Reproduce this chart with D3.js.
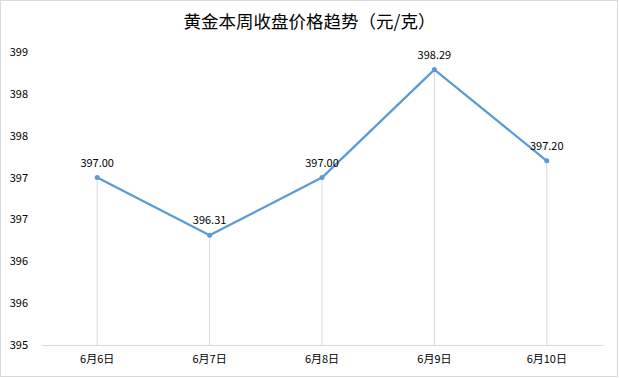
<!DOCTYPE html>
<html>
<head>
<meta charset="utf-8">
<script src="https://cdn.jsdelivr.net/npm/d3@7"></script>
<style>
  body { margin: 0; background: #fff; }
  text { font-family: "Noto Sans CJK SC", "Noto Sans", sans-serif; fill: #000; }
</style>
</head>
<body>
<div id="chart"></div>
<script>
const TITLE = "黄金本周收盘价格趋势（元/克）";
const dates = ["6月6日", "6月7日", "6月8日", "6月9日", "6月10日"];
const prices = [397.0, 396.31, 397.0, 398.29, 397.2];
const yTicks = [395, 395.5, 396, 396.5, 397, 397.5, 398, 398.5];
const yTickLabels = ["395", "396", "396", "397", "397", "398", "398", "399"];

const W = 619, H = 378;
const MARGIN = { TOP: 52, BOTTOM: 33, LEFT: 41, RIGHT: 16 };
const innerW = W - MARGIN.LEFT - MARGIN.RIGHT;
const innerH = H - MARGIN.TOP - MARGIN.BOTTOM;

const svg = d3.select("#chart")
  .append("svg")
  .attr("width", W)
  .attr("height", H);

// outer border
svg.append("rect")
  .attr("x", 0.5).attr("y", 0.5)
  .attr("width", W - 2).attr("height", H - 2)
  .attr("fill", "#fff")
  .attr("stroke", "#d9d9d9");

svg.append("text")
  .attr("x", W / 2)
  .attr("y", 28)
  .attr("text-anchor", "middle")
  .style("font-size", "17.5px")
  .text(TITLE);

const g = svg.append("g")
  .attr("transform", `translate(${MARGIN.LEFT}, ${MARGIN.TOP})`);

const xScale = d3.scaleBand().domain(dates).range([0, innerW]);
const yScale = d3.scaleLinear().domain([395, 398.5]).range([innerH, 0]);

const cx = (d, i) => xScale(dates[i]) + xScale.bandwidth() / 2;

// drop lines from each point down to the axis
g.selectAll(".drop")
  .data(prices)
  .join("line")
  .attr("class", "drop")
  .attr("x1", cx)
  .attr("x2", cx)
  .attr("y1", d => yScale(d))
  .attr("y2", innerH)
  .attr("stroke", "#d9d9d9")
  .attr("stroke-width", 1);

// x axis
const xAxis = g.append("g")
  .attr("transform", `translate(0, ${innerH})`)
  .call(d3.axisBottom(xScale).tickSize(0).tickPadding(10));
xAxis.select(".domain").attr("stroke", "#d9d9d9");
xAxis.selectAll("text")
  .style("font-size", "11px")
  .style("font-family", "\"Noto Sans CJK SC\", sans-serif")
  .attr("fill", "#000");

// y axis (labels only)
const yAxis = g.append("g")
  .call(d3.axisLeft(yScale)
    .tickValues(yTicks)
    .tickFormat((d, i) => yTickLabels[i])
    .tickSize(0)
    .tickPadding(13));
yAxis.select(".domain").remove();
yAxis.selectAll("text")
  .style("font-size", "11px")
  .style("font-family", "\"Noto Sans CJK SC\", sans-serif")
  .attr("fill", "#000");

const line = d3.line()
  .x((d, i) => cx(d, i))
  .y(d => yScale(d));

g.append("path")
  .datum(prices)
  .attr("d", line)
  .attr("fill", "none")
  .attr("stroke", "#5b9bd5")
  .attr("stroke-width", 2.25)
  .attr("stroke-linejoin", "round");

g.selectAll(".pt")
  .data(prices)
  .join("circle")
  .attr("class", "pt")
  .attr("cx", cx)
  .attr("cy", d => yScale(d))
  .attr("r", 2.5)
  .attr("fill", "#5b9bd5");

g.selectAll(".lbl")
  .data(prices)
  .join("text")
  .attr("class", "lbl")
  .attr("x", cx)
  .attr("y", d => yScale(d) - 11)
  .attr("text-anchor", "middle")
  .style("font-size", "11px")
  .text(d => d.toFixed(2));
</script>
</body>
</html>
